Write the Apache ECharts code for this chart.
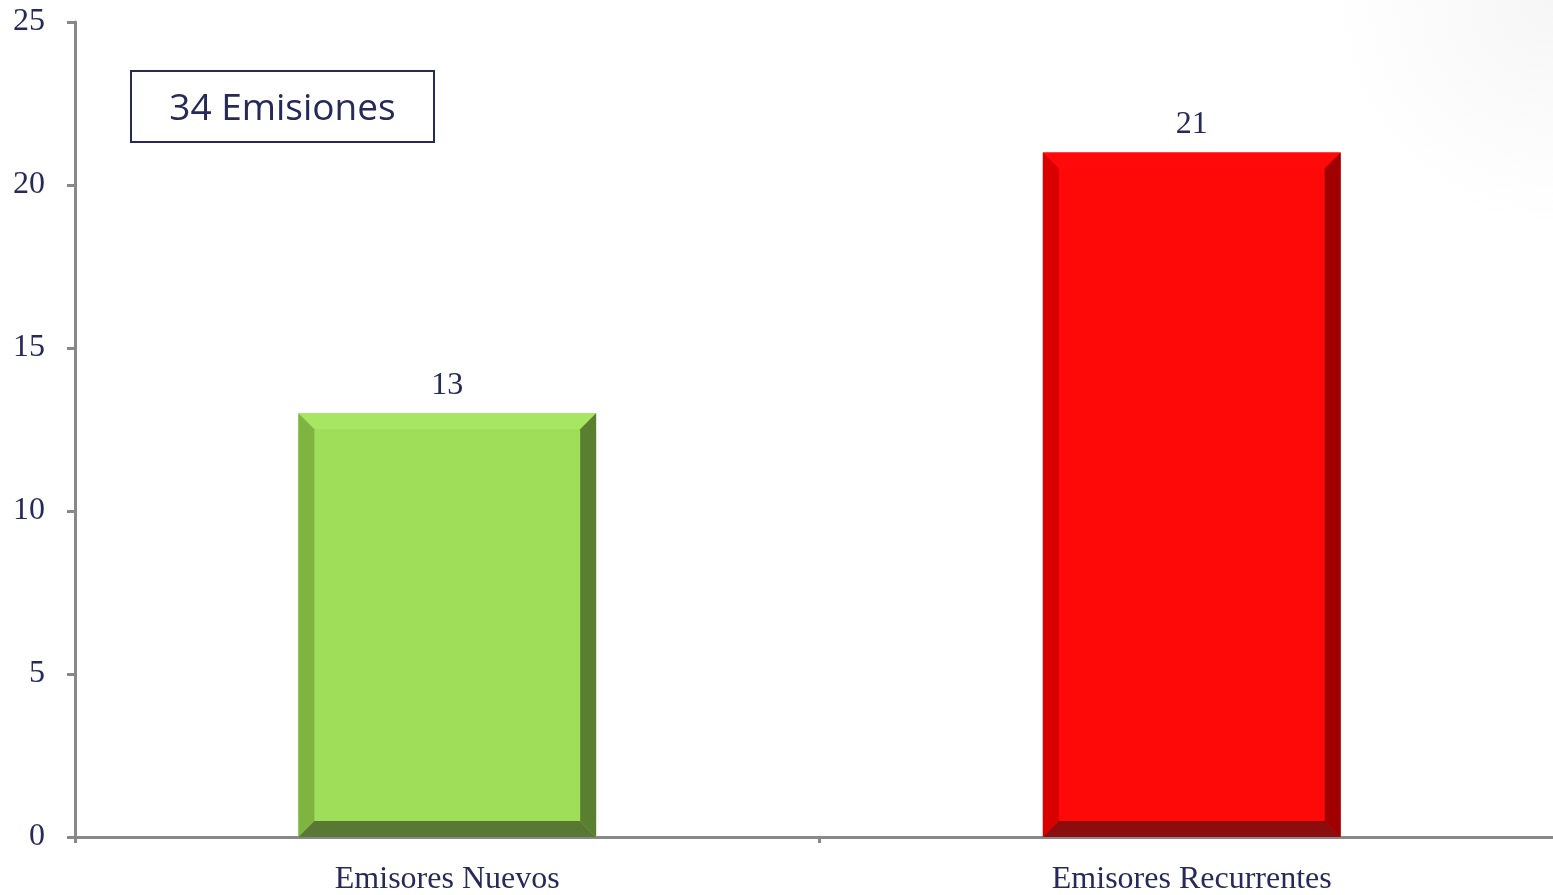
<!DOCTYPE html>
<html>
<head>
<meta charset="utf-8">
<script src="https://cdn.jsdelivr.net/npm/echarts@6/dist/echarts.min.js"></script>
<style>
html,body{margin:0;padding:0;background:#fff;}
#chart{width:1553px;height:895px;}
</style>
</head>
<body>
<div id="chart"></div>
<script>
var categories = ['Emisores Nuevos', 'Emisores Recurrentes'];
var values = [13, 21];
var yTicks = [0, 5, 10, 15, 20, 25];
var boxText = '34 Emisiones';

var palettes = [
  {face: '#9FDE59', top: '#A7E663', left: '#7FB441', right: '#5A7F31', bottom: '#587833'},
  {face: '#FF0808', top: '#FF0A0A', left: '#D90000', right: '#A00000', bottom: '#8B0D0D'}
];
var textColor = '#262A58';
var serif = '"Liberation Serif", "DejaVu Serif", serif';

var chart = echarts.init(document.getElementById('chart'));
chart.setOption({
  backgroundColor: {
    type: 'radial', x: 1, y: 0, r: 0.25,
    colorStops: [{offset: 0, color: '#F6F6F6'}, {offset: 1, color: '#FFFFFF'}]
  },
  animation: false,
  grid: {left: 75, right: -11, top: 22, bottom: 58, containLabel: false, outerBoundsMode: 'none'},
  xAxis: {
    type: 'category',
    data: categories,
    axisLine: {lineStyle: {color: '#888888', width: 3}},
    axisTick: {show: true, length: 6, lineStyle: {color: '#888888', width: 3}},
    axisLabel: {color: textColor, fontFamily: serif, fontSize: 32, margin: 27}
  },
  yAxis: {
    type: 'value',
    min: yTicks[0], max: yTicks[yTicks.length - 1], interval: 5,
    axisLine: {show: true, lineStyle: {color: '#888888', width: 3}},
    axisTick: {show: true, length: 8, lineStyle: {color: '#888888', width: 3}},
    splitLine: {show: false},
    axisLabel: {color: textColor, fontFamily: serif, fontSize: 32, margin: 30}
  },
  graphic: [{
    type: 'group', left: 130, top: 70,
    children: [
      {type: 'rect', shape: {x: 0, y: 0, width: 303, height: 71},
       style: {fill: '#fff', stroke: '#262A58', lineWidth: 2}},
      {type: 'text', x: 151.5, y: 38,
       style: {text: boxText, fill: textColor, font: '37px "Open Sans", sans-serif',
               align: 'center', verticalAlign: 'middle'}}
    ]
  }],
  series: [{
    type: 'bar',
    barWidth: '40%',
    data: values.map(function (v, i) {
      return {value: v, itemStyle: {color: palettes[i].face}};
    }),
    label: {show: true, position: 'top', distance: 12, color: textColor, fontFamily: serif, fontSize: 32}
  }, {
    type: 'custom',
    data: values.map(function (v, i) { return [i, v]; }),
    renderItem: function (params, api) {
      var i = api.value(0), v = api.value(1);
      var top = api.coord([i, v]);
      var base = api.coord([i, 0]);
      var w = api.size([1, 0])[0] * 0.4;
      var x0 = top[0] - w / 2, x1 = top[0] + w / 2, y0 = top[1], y1 = base[1];
      var b = 16;
      var p = palettes[i];
      return {
        type: 'group',
        children: [
          {type: 'polygon', shape: {points: [[x0, y0], [x1, y0], [x1 - b, y0 + b], [x0 + b, y0 + b]]}, style: {fill: p.top}},
          {type: 'polygon', shape: {points: [[x0, y0], [x0 + b, y0 + b], [x0 + b, y1 - b], [x0, y1]]}, style: {fill: p.left}},
          {type: 'polygon', shape: {points: [[x1, y0], [x1, y1], [x1 - b, y1 - b], [x1 - b, y0 + b]]}, style: {fill: p.right}},
          {type: 'polygon', shape: {points: [[x0, y1], [x0 + b, y1 - b], [x1 - b, y1 - b], [x1, y1]]}, style: {fill: p.bottom}}
        ]
      };
    },
    z: 3
  }]
});
</script>
</body>
</html>
